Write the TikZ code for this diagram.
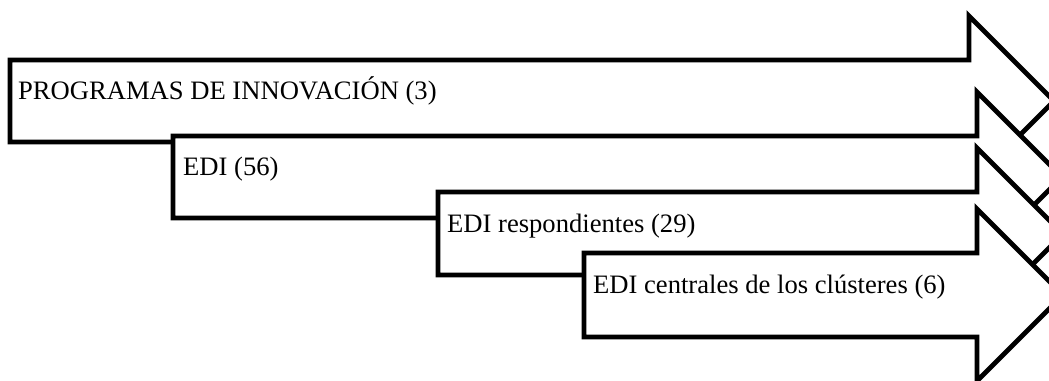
\documentclass[tikz,border=0pt]{standalone}
\usepackage{fontspec}
\setmainfont{Liberation Serif}
\begin{document}
\begin{tikzpicture}[x=1pt,y=-1pt,
  blockarrow/.style={draw=black,fill=white,line width=4.8pt,miter limit=10},
  lbl/.style={anchor=base west,inner sep=0pt,font=\fontsize{26.6}{30}\selectfont}]
\useasboundingbox (0,0) rectangle (1049,380);
\clip (0,0) rectangle (1049,380);
% arrow 1
\draw[blockarrow] (10,60) -- (969,60) -- (969,16) -- (1054,101) -- (969,186) -- (969,142) -- (10,142) -- cycle;
\node[lbl] (t1) at (18,99) {PROGRAMAS DE INNOVACIÓN (3)};
% arrow 2
\draw[blockarrow] (173,136) -- (977,136) -- (977,92) -- (1062,177) -- (977,262) -- (977,218) -- (173,218) -- cycle;
\node[lbl] (t2) at (183,175) {EDI (56)};
% arrow 3
\draw[blockarrow] (438,192) -- (977,192) -- (977,148) -- (1063,234) -- (977,320) -- (977,275) -- (438,275) -- cycle;
\node[lbl] (t3) at (447,232) {EDI respondientes (29)};
% arrow 4
\draw[blockarrow] (584,253) -- (977,253) -- (977,209) -- (1063,295) -- (977,381) -- (977,337) -- (584,337) -- cycle;
\node[lbl] (t4) at (593,293) {EDI centrales de los clústeres (6)};
\end{tikzpicture}
\end{document}
